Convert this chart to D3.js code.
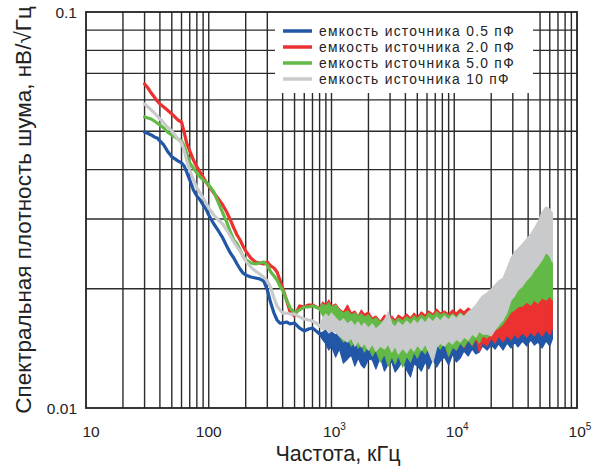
<!DOCTYPE html>
<html>
<head>
<meta charset="utf-8">
<script src="https://cdn.jsdelivr.net/npm/d3@7"></script>
<style>
  html, body { margin: 0; padding: 0; background: #fff; }
  svg { display: block; font-family: "Liberation Sans", Arial, sans-serif; }
</style>
</head>
<body>
<svg id="chart" width="608" height="467"></svg>
<script>
// Noise spectral density vs frequency for four source capacitances.

// Low-frequency part: a single clean trace (kHz, nV/√Hz)
const freqLow = [30, 32, 34, 36, 38, 40, 43, 46, 50, 53, 56, 60, 63, 66, 70, 75, 80, 85, 90, 95,
  100, 110, 120, 130, 140, 150, 160, 170, 180, 190, 200, 220, 240, 260, 280, 300, 320, 340, 360, 380,
  400, 430, 460, 500, 550, 600, 650, 700, 750, 800];

const trace05 = [0.04978, 0.04935, 0.04892, 0.04836, 0.04808, 0.04724, 0.04616, 0.04458, 0.04306, 0.04256,
  0.04207, 0.04158, 0.04086, 0.03945, 0.03766, 0.03553, 0.03431, 0.03353, 0.03256, 0.03181,
  0.03072, 0.02915, 0.02799, 0.02688, 0.02565, 0.02463, 0.02392, 0.02310, 0.02244, 0.02193,
  0.02167, 0.02142, 0.02130, 0.02118, 0.02093, 0.01986, 0.01841, 0.01737, 0.01668, 0.01639,
  0.01639, 0.01649, 0.01630, 0.01639, 0.01592, 0.01565, 0.01583, 0.01592, 0.01565, 0.01538];

const trace20 = [0.06579, 0.06427, 0.06243, 0.06100, 0.05960, 0.05857, 0.05756, 0.05657, 0.05528, 0.05432,
  0.05337, 0.05275, 0.04978, 0.04670, 0.04458, 0.04231, 0.04062, 0.03945, 0.03832, 0.03722,
  0.03637, 0.03492, 0.03372, 0.03256, 0.03126, 0.02984, 0.02848, 0.02735, 0.02656, 0.02565,
  0.02492, 0.02392, 0.02337, 0.02324, 0.02310, 0.02337, 0.02284, 0.02257, 0.02206, 0.02105,
  0.02010, 0.01874, 0.01748, 0.01707, 0.01810, 0.01799, 0.01820, 0.01820, 0.01799, 0.01789];

const trace50 = [0.05432, 0.05401, 0.05369, 0.05306, 0.05245, 0.05185, 0.05095, 0.04978, 0.04892, 0.04836,
  0.04780, 0.04724, 0.04589, 0.04406, 0.04158, 0.04038, 0.03922, 0.03832, 0.03766, 0.03722,
  0.03658, 0.03512, 0.03295, 0.03108, 0.02949, 0.02783, 0.02656, 0.02595, 0.02506, 0.02420,
  0.02365, 0.02324, 0.02310, 0.02324, 0.02337, 0.02297, 0.02206, 0.02155, 0.02105, 0.02033,
  0.01986, 0.01874, 0.01789, 0.01737, 0.01768, 0.01799, 0.01799, 0.01810, 0.01799, 0.01778];

const trace100 = [0.05857, 0.05756, 0.05657, 0.05560, 0.05464, 0.05369, 0.05245, 0.05125, 0.05007, 0.04892,
  0.04780, 0.04670, 0.04484, 0.04231, 0.03991, 0.03766, 0.03595, 0.03492, 0.03392, 0.03295,
  0.03200, 0.03072, 0.02984, 0.02915, 0.02815, 0.02719, 0.02626, 0.02550, 0.02492, 0.02420,
  0.02351, 0.02270, 0.02218, 0.02180, 0.02142, 0.02093, 0.02010, 0.01896, 0.01810, 0.01768,
  0.01737, 0.01737, 0.01727, 0.01727, 0.01697, 0.01678, 0.01668, 0.01658, 0.01639, 0.01611];

// High-frequency part: noisy, given as lower / upper envelope (kHz, nV/√Hz)
const freqHigh = [800, 850, 900, 950, 1000, 1080, 1160, 1250, 1350, 1450, 1550, 1650, 1750, 1850, 2000,
  2150, 2300, 2500, 2700, 2900, 3100, 3300, 3500, 3800, 4100, 4400, 4700, 5000, 5400, 5800,
  6200, 6700, 7200, 7700, 8300, 9000, 9700, 10400, 11200, 12000, 13000, 14000, 15000, 16000, 17000,
  18500, 20000, 21500, 23000, 25000, 27000, 29000, 31000, 33000, 36000, 39000, 42000, 45000, 48000, 52000,
  56000, 60000, 63000];

const upper05 = [0.01547, 0.01556, 0.01574, 0.01547, 0.01556, 0.01529, 0.01565, 0.01520, 0.01538, 0.01502,
  0.01529, 0.01511, 0.01547, 0.01520, 0.01538, 0.01502, 0.01529, 0.01511, 0.01547, 0.01520,
  0.01556, 0.01520, 0.01547, 0.01529, 0.01565, 0.01538, 0.01556, 0.01529, 0.01574, 0.01547,
  0.01574, 0.01556, 0.01583, 0.01565, 0.01592, 0.01574, 0.01601, 0.01583, 0.01611, 0.01592,
  0.01620, 0.01601, 0.01630, 0.01611, 0.01639, 0.01620, 0.01649, 0.01630, 0.01658, 0.01639,
  0.01668, 0.01649, 0.01668, 0.01649, 0.01678, 0.01658, 0.01688, 0.01658, 0.01688, 0.01668,
  0.01707, 0.01688, 0.01697];
const lower05 = [0.01529, 0.01485, 0.01451, 0.01401, 0.01434, 0.01345, 0.01410, 0.01299, 0.01330, 0.01361,
  0.01277, 0.01337, 0.01284, 0.01262, 0.01330, 0.01322, 0.01255, 0.01345, 0.01240, 0.01292,
  0.01307, 0.01233, 0.01262, 0.01320, 0.01247, 0.01198, 0.01292, 0.01277, 0.01240, 0.01307,
  0.01255, 0.01330, 0.01269, 0.01314, 0.01345, 0.01284, 0.01369, 0.01307, 0.01337, 0.01393,
  0.01353, 0.01409, 0.01369, 0.01385, 0.01434, 0.01401, 0.01442, 0.01409, 0.01451, 0.01401,
  0.01459, 0.01417, 0.01468, 0.01426, 0.01476, 0.01434, 0.01485, 0.01442, 0.01468, 0.01417,
  0.01476, 0.01434, 0.01494];

const upper20 = [0.01799, 0.01852, 0.01820, 0.01874, 0.01810, 0.01831, 0.01778, 0.01748, 0.01820, 0.01737,
  0.01758, 0.01707, 0.01768, 0.01727, 0.01748, 0.01688, 0.01707, 0.01658, 0.01717, 0.01678,
  0.01707, 0.01668, 0.01717, 0.01688, 0.01727, 0.01688, 0.01737, 0.01697, 0.01748, 0.01717,
  0.01758, 0.01727, 0.01778, 0.01737, 0.01758, 0.01727, 0.01768, 0.01737, 0.01778, 0.01748,
  0.01789, 0.01758, 0.01810, 0.01778, 0.01820, 0.01799, 0.01896, 0.01810, 0.01758, 0.01707,
  0.01789, 0.01820, 0.01778, 0.01852, 0.01820, 0.01874, 0.01841, 0.01907, 0.01874, 0.01952,
  0.01986, 0.02057, 0.02010];
const lower20 = [0.01778, 0.01727, 0.01668, 0.01688, 0.01620, 0.01574, 0.01547, 0.01485, 0.01520, 0.01459,
  0.01502, 0.01442, 0.01485, 0.01401, 0.01459, 0.01385, 0.01426, 0.01322, 0.01401, 0.01353,
  0.01417, 0.01369, 0.01442, 0.01385, 0.01451, 0.01401, 0.01468, 0.01409, 0.01476, 0.01426,
  0.01485, 0.01417, 0.01494, 0.01434, 0.01459, 0.01353, 0.01442, 0.01401, 0.01468, 0.01417,
  0.01485, 0.01434, 0.01502, 0.01385, 0.01468, 0.01434, 0.01502, 0.01459, 0.01520, 0.01468,
  0.01529, 0.01485, 0.01538, 0.01502, 0.01547, 0.01511, 0.01556, 0.01520, 0.01565, 0.01520,
  0.01574, 0.01529, 0.01583];

const upper50 = [0.01789, 0.01831, 0.01810, 0.01841, 0.01799, 0.01820, 0.01768, 0.01737, 0.01758, 0.01717,
  0.01737, 0.01707, 0.01727, 0.01697, 0.01717, 0.01668, 0.01688, 0.01649, 0.01668, 0.01639,
  0.01678, 0.01649, 0.01688, 0.01658, 0.01697, 0.01668, 0.01707, 0.01678, 0.01717, 0.01688,
  0.01737, 0.01707, 0.01748, 0.01717, 0.01737, 0.01707, 0.01727, 0.01697, 0.01737, 0.01707,
  0.01748, 0.01717, 0.01737, 0.01707, 0.01748, 0.01768, 0.01799, 0.01768, 0.01748, 0.01789,
  0.01874, 0.01918, 0.01975, 0.02010, 0.02069, 0.02142, 0.02206, 0.02284, 0.02337, 0.02420,
  0.02536, 0.02477, 0.02392];
const lower50 = [0.01768, 0.01707, 0.01649, 0.01678, 0.01611, 0.01574, 0.01520, 0.01468, 0.01502, 0.01434,
  0.01476, 0.01417, 0.01459, 0.01385, 0.01434, 0.01353, 0.01401, 0.01307, 0.01369, 0.01277,
  0.01353, 0.01292, 0.01361, 0.01269, 0.01353, 0.01307, 0.01385, 0.01337, 0.01409, 0.01369,
  0.01434, 0.01393, 0.01451, 0.01409, 0.01468, 0.01353, 0.01426, 0.01401, 0.01459, 0.01426,
  0.01485, 0.01442, 0.01502, 0.01459, 0.01520, 0.01502, 0.01547, 0.01574, 0.01592, 0.01630,
  0.01688, 0.01748, 0.01768, 0.01799, 0.01810, 0.01852, 0.01820, 0.01874, 0.01841, 0.01896,
  0.01874, 0.01918, 0.01874];

const upper100 = [0.01620, 0.01688, 0.01727, 0.01697, 0.01737, 0.01688, 0.01649, 0.01678, 0.01630, 0.01658,
  0.01611, 0.01649, 0.01601, 0.01639, 0.01592, 0.01630, 0.01583, 0.01620, 0.01668, 0.01748,
  0.01630, 0.01601, 0.01649, 0.01611, 0.01658, 0.01620, 0.01668, 0.01630, 0.01678, 0.01639,
  0.01688, 0.01649, 0.01697, 0.01658, 0.01707, 0.01668, 0.01717, 0.01678, 0.01727, 0.01697,
  0.01748, 0.01778, 0.01820, 0.01874, 0.01918, 0.01952, 0.01998, 0.02045, 0.02093, 0.02130,
  0.02257, 0.02392, 0.02477, 0.02521, 0.02595, 0.02672, 0.02751, 0.02848, 0.02949, 0.03126,
  0.03218, 0.03181, 0.03108];
const lower100 = [0.01601, 0.01574, 0.01583, 0.01547, 0.01565, 0.01555, 0.01519, 0.01492, 0.01467, 0.01502,
  0.01433, 0.01476, 0.01425, 0.01458, 0.01400, 0.01450, 0.01392, 0.01433, 0.01409, 0.01450,
  0.01384, 0.01433, 0.01368, 0.01417, 0.01377, 0.01425, 0.01392, 0.01442, 0.01400, 0.01450,
  0.01384, 0.01306, 0.01425, 0.01458, 0.01433, 0.01476, 0.01450, 0.01492, 0.01467, 0.01510,
  0.01484, 0.01537, 0.01510, 0.01564, 0.01537, 0.01538, 0.01520, 0.01574, 0.01620, 0.01668,
  0.01748, 0.01874, 0.01918, 0.01986, 0.02033, 0.02105, 0.02155, 0.02231, 0.02284, 0.02365,
  0.02477, 0.02420, 0.02337];

const seriesLabels = ["емкость источника 0.5 пФ", "емкость источника 2.0 пФ",
  "емкость источника 5.0 пФ", "емкость источника 10 пФ"];

// Axis ticks
const xTickValues = [10, 100, 1000, 10000, 100000];
const xTickBase = ["10", "100", "10", "10", "10"];
const xTickExp = ["", "", "3", "4", "5"];
const yTickValues = [0.01, 0.1];
const yTickLabels = ["0.01", "0.1"];

const series = [
  { label: seriesLabels[0], trace: trace05, lo: lower05, hi: upper05, color: "#2256a6" },
  { label: seriesLabels[1], trace: trace20, lo: lower20, hi: upper20, color: "#ec3131" },
  { label: seriesLabels[2], trace: trace50, lo: lower50, hi: upper50, color: "#62b946" },
  { label: seriesLabels[3], trace: trace100, lo: lower100, hi: upper100, color: "#c9cacb" }
];

const svg = d3.select("#chart");
const plotL = 86, plotR = 577, plotT = 12, plotB = 408;

const x = d3.scaleLog().domain([10, 100000]).range([plotL, plotR]);
const y = d3.scaleLog().domain([0.01, 0.1]).range([plotB, plotT]);

const gridColor = "#2b2b2b";

// Grid: every 1..9 multiple on both log axes
const xGrid = [];
for (let d = 10; d < 100000; d *= 10) for (let m = 1; m <= 9; m++) xGrid.push(d * m);
const yGrid = [];
for (let m = 2; m <= 9; m++) yGrid.push(m * 0.01);

const grid = svg.append("g");
grid.selectAll("line.vx").data(xGrid.filter(v => v > 10)).join("line")
  .attr("x1", d => x(d)).attr("x2", d => x(d))
  .attr("y1", plotT).attr("y2", plotB)
  .attr("stroke", gridColor).attr("stroke-width", 1.4);
grid.selectAll("line.hy").data(yGrid).join("line")
  .attr("x1", plotL).attr("x2", plotR)
  .attr("y1", d => y(d)).attr("y2", d => y(d))
  .attr("stroke", gridColor).attr("stroke-width", 1.4);

// Data
const plot = svg.append("g");
const line = d3.line().x(d => x(d[0])).y(d => y(d[1]));
const band = d3.area().x(d => x(d[0])).y0(d => y(d[1])).y1(d => y(d[2]));

series.forEach(s => {
  const pts = freqLow.map((f, i) => [f, s.trace[i]]);
  plot.append("path").datum(pts)
    .attr("d", line).attr("fill", "none")
    .attr("stroke", s.color).attr("stroke-width", 3.2)
    .attr("stroke-linejoin", "round").attr("stroke-linecap", "round");
  const env = freqHigh.map((f, i) => [f, s.lo[i], s.hi[i]]);
  plot.append("path").datum(env)
    .attr("d", band).attr("fill", s.color)
    .attr("stroke", s.color).attr("stroke-width", 1.2)
    .attr("stroke-linejoin", "round");
});

// Legend box
const legend = svg.append("g");
legend.append("rect")
  .attr("x", 275).attr("y", plotT).attr("width", 258).attr("height", 81)
  .attr("fill", "#fff");
series.forEach((s, i) => {
  const cy = 31 + i * 16;
  legend.append("line")
    .attr("x1", 283).attr("x2", 312).attr("y1", cy).attr("y2", cy)
    .attr("stroke", s.color).attr("stroke-width", 3.5);
  legend.append("text")
    .attr("x", 319).attr("y", cy + 5)
    .attr("font-size", 13.8).attr("letter-spacing", 1.3).attr("fill", "#222")
    .text(s.label);
});

// Frame
svg.append("rect")
  .attr("x", plotL).attr("y", plotT).attr("width", plotR - plotL).attr("height", plotB - plotT)
  .attr("fill", "none").attr("stroke", "#222").attr("stroke-width", 1.8);

// Tick labels
const xl = svg.append("g").attr("font-size", 15.5).attr("fill", "#222").attr("text-anchor", "middle");
xTickValues.forEach((v, i) => {
  const t = xl.append("text").attr("x", x(v) + (i === 0 ? 5 : (xTickExp[i] ? 3 : 0))).attr("y", 437);
  t.append("tspan").text(xTickBase[i]);
  if (xTickExp[i]) t.append("tspan").attr("font-size", 10).attr("dy", -7).text(xTickExp[i]);
});
const yl = svg.append("g").attr("font-size", 15.5).attr("fill", "#222").attr("text-anchor", "end");
yTickValues.forEach((v, i) => {
  yl.append("text").attr("x", 77).attr("y", y(v) + 6).text(yTickLabels[i]);
});

// Axis titles
svg.append("text")
  .attr("x", 338).attr("y", 461).attr("text-anchor", "middle")
  .attr("font-size", 21.5).attr("fill", "#222")
  .text("Частота, кГц");
svg.append("text")
  .attr("transform", "translate(31,210) rotate(-90)")
  .attr("text-anchor", "middle")
  .attr("font-size", 22.5).attr("fill", "#222")
  .text("Спектральная плотность шума, нВ/√Гц");
</script>
</body>
</html>
